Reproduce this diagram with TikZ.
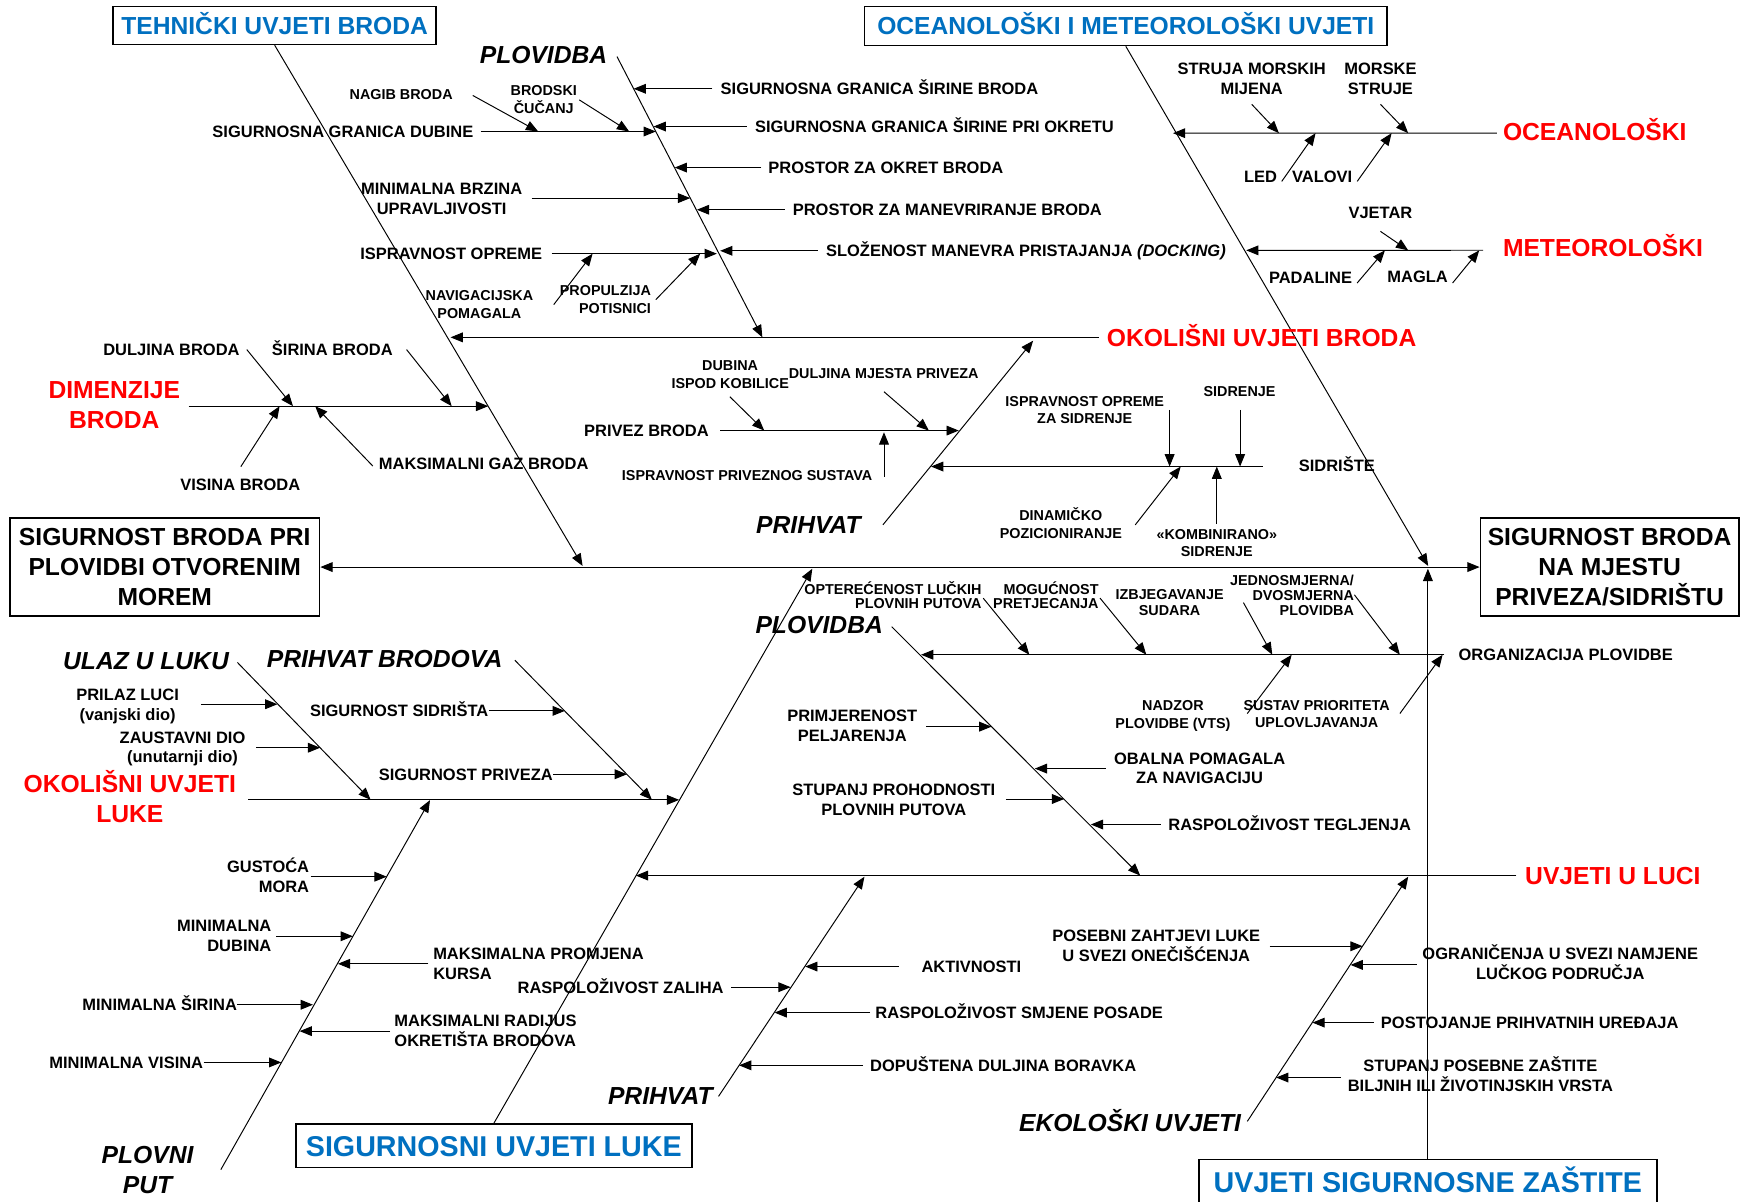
\documentclass[tikz,border=0pt]{standalone}
\usepackage{fontspec}
\setmainfont{Liberation Sans}
\usepackage{xcolor}
\usepackage{tikz}
\usetikzlibrary{arrows.meta}
\usetikzlibrary{calc}

\definecolor{ttlblue}{RGB}{0,112,192}
\newcommand{\capstrut}{\rule{0pt}{1.3em}}

\begin{document}
\begin{tikzpicture}[x=0.02cm,y=-0.02cm,line width=0.5pt,>={Triangle[length=6.3pt,width=5pt]},
        lbl/.style={font=\fontsize{8.45}{10.2}\selectfont\bfseries,inner sep=0pt,text height=6.05pt,text depth=0pt},
        tlbl/.style={font=\fontsize{7.37}{9.07}\selectfont\bfseries,inner sep=0pt,text height=5.28pt,text depth=0pt},
        mlbl/.style={font=\fontsize{8.45}{10.2}\selectfont\bfseries,inner sep=0pt,align=center,anchor=north,yshift=8.08pt},
        mtlbl/.style={font=\fontsize{7.37}{9.07}\selectfont\bfseries,inner sep=0pt,align=center,anchor=north,yshift=7.05pt},
        cat/.style={font=\fontsize{12.64}{15.3}\selectfont\bfseries\itshape,inner sep=0pt,text height=9.05pt,text depth=0pt},
        mcat/.style={font=\fontsize{12.64}{15.3}\selectfont\bfseries\itshape,inner sep=0pt,align=center,anchor=north,yshift=12.08pt},
        redlbl/.style={cat,font=\fontsize{12.64}{15.3}\selectfont\bfseries,text=red},
        mredlbl/.style={mcat,font=\fontsize{12.64}{15.3}\selectfont\bfseries,text=red},
        ttl/.style={draw,line width=0.8pt,inner sep=0pt,text=ttlblue,font=\fontsize{12.64}{15.3}\selectfont\bfseries,text height=9.05pt,text depth=0pt},
        bigttl/.style={ttl,font=\fontsize{14.7}{17}\selectfont\bfseries,text height=10.5pt},
        goal/.style={draw,line width=0.8pt,inner sep=0pt,align=center,font=\fontsize{12.64}{15.3}\selectfont\bfseries}]
        \useasboundingbox (0,0) rectangle (1568,1083);
        \fill[white] (0,0) rectangle (1568,1083);
        \clip (0,0) rectangle (1568,1083);

        % glava i rep
        \node[goal,minimum width=5.58cm,minimum height=1.76cm] (shipsea) at (148.5,511) {SIGURNOST BRODA PRI\\PLOVIDBI OTVORENIM\\MOREM};
        \node[goal,minimum width=4.66cm,minimum height=1.76cm] (shipport) at (1450.5,511) {SIGURNOST BRODA\\NA MJESTU\\PRIVEZA/SIDRIŠTU};
        \draw[<->] (shipsea.east) -- (shipport.west);

        \node[ttl,minimum width=5.82cm,minimum height=0.68cm] (tech) at (247.5,23) {TEHNIČKI UVJETI BRODA};
        \node[ttl,minimum width=9.42cm,minimum height=0.7cm] (ocean) at (1014.5,23.5) {OCEANOLOŠKI I METEOROLOŠKI UVJETI};
        \node[bigttl,minimum width=7.14cm,minimum height=0.78cm] (portsafe) at (445,1032.5) {SIGURNOSNI UVJETI LUKE};
        \node[bigttl,minimum width=8.25cm,minimum height=0.8cm] (security) at (1286.75,1065) {UVJETI SIGURNOSNE ZAŠTITE};
        \coordinate (techtip) at (525,510);
        \coordinate (oceantip) at (1287,510);
        \coordinate (porttip) at (732,512.5);
        \coordinate (sectip) at (1286.75,512.5);
        \draw[->] (tech.south) -- (techtip);
        \draw[->] (ocean.south) -- (oceantip);
        \draw[->] (portsafe.north) -- (porttip);
        \draw[->] (security.north) -- (sectip);

        % tehnicki uvjeti broda
        \node[cat,anchor=west] (navA) at (432,49) {PLOVIDBA};
        \coordinate (navAtop) at (556,51);
        \coordinate (navAtip) at (687,304);
        \draw[->] (navAtop) -- (navAtip);
        \node[lbl,anchor=west] (beamw) at (649,80) {SIGURNOSNA GRANICA ŠIRINE BRODA};
        \node[lbl,anchor=west] (turnw) at (680,114) {SIGURNOSNA GRANICA ŠIRINE PRI OKRETU};
        \node[lbl,anchor=west] (turnsp) at (692,151) {PROSTOR ZA OKRET BRODA};
        \node[lbl,anchor=west] (mansp) at (714,189) {PROSTOR ZA MANEVRIRANJE BRODA};
        \node[lbl,anchor=west] (dock) at (744,226) {SLOŽENOST MANEVRA PRISTAJANJA \textit{(DOCKING)}};
        \coordinate (beamwtip) at (571,80);
        \coordinate (turnwtip) at (589,114);
        \coordinate (turnsptip) at (608,151);
        \coordinate (mansptip) at (628,189);
        \coordinate (docktip) at (649,226);
        \draw[->] ($(beamw.west)+(-7,0)$) -- (beamwtip);
        \draw[->] ($(turnw.west)+(-7,0)$) -- (turnwtip);
        \draw[->] ($(turnsp.west)+(-6,0)$) -- (turnsptip);
        \draw[->] ($(mansp.west)+(-7,0)$) -- (mansptip);
        \draw[->] ($(dock.west)+(-7,0)$) -- (docktip);

        \node[lbl,anchor=east] (depth) at (427,118.5) {SIGURNOSNA GRANICA DUBINE};
        \coordinate (depthtip) at (591,118.5);
        \draw[->] ($(depth.east)+(6,0)$) -- (depthtip);
        \node[tlbl] (heel) at (361.5,85) {NAGIB BRODA};
        \coordinate (heelst) at (426,86);
        \coordinate (heeltip) at (485,118.5);
        \draw[->] (heelst) -- (heeltip);
        \node[mtlbl] (squat) at (490,81) {\capstrut BRODSKI\\ČUČANJ};
        \coordinate (squatst) at (522,90);
        \coordinate (squattip) at (567,118.5);
        \draw[->] (squatst) -- (squattip);
        \node[mlbl] (speed) at (398,169.5) {\capstrut MINIMALNA BRZINA\\UPRAVLJIVOSTI};
        \coordinate (speedst) at (479,178.5);
        \coordinate (speedtip) at (622,178.5);
        \draw[->] (speedst) -- (speedtip);
        \node[lbl,anchor=east] (equip) at (489,228.6) {ISPRAVNOST OPREME};
        \coordinate (equiptip) at (646,228.6);
        \draw[->] ($(equip.east)+(8,0)$) -- (equiptip);
        \node[mtlbl] (navaids) at (432,266) {\capstrut NAVIGACIJSKA\\POMAGALA};
        \coordinate (navaidsst) at (499,274.5);
        \coordinate (navaidstip) at (534,228.6);
        \draw[->] (navaidsst) -- (navaidstip);
        \node[mtlbl,anchor=north east,align=right] (propul) at (587,261.6) {\capstrut PROPULZIJA\\POTISNICI};
        \coordinate (propulst) at (591,270);
        \coordinate (propultip) at (631,228.6);
        \draw[->] (propulst) -- (propultip);

        \node[redlbl,anchor=west] (envship) at (997,304) {OKOLIŠNI UVJETI BRODA};
        \coordinate (envshiptip) at (406,304);
        \draw[->] ($(envship.west)+(-7,0)$) -- (envshiptip);

        \node[mredlbl] (dim) at (103,351) {\capstrut DIMENZIJE\\BRODA};
        \coordinate (dimst) at (170,366);
        \coordinate (dimtip) at (440,366);
        \draw[->] (dimst) -- (dimtip);
        \node[lbl] (shiplen) at (154.5,315) {DULJINA BRODA};
        \node[lbl] (shipwid) at (299.5,315) {ŠIRINA BRODA};
        \node[lbl] (shiphgt) at (216.5,437) {VISINA BRODA};
        \node[lbl,anchor=west] (draught) at (341,418) {MAKSIMALNI GAZ BRODA};
        \coordinate (shiplentip) at (264,366);
        \coordinate (shipwidtip) at (407,366);
        \coordinate (shiphgttip) at (252,366);
        \coordinate (draughttip) at (284,366);
        \draw[->] ($(shiplen.east)+(6,0)$) -- (shiplentip);
        \draw[->] ($(shipwid.east)+(12,0)$) -- (shipwidtip);
        \draw[->] ($(shiphgt.north)+(0.5,-10.7)$) -- (shiphgttip);
        \draw[->] ($(draught.west)+(-5,2)$) -- (draughttip);

        % oceanoloski i meteoroloski uvjeti
        \node[redlbl,anchor=west] (oceano) at (1354,118.5) {OCEANOLOŠKI};
        \coordinate (oceanotip) at (1057,120);
        \draw[->] ($(oceano.west)+(-5,1.5)$) -- (oceanotip);
        \node[mlbl] (tide) at (1128,62) {\capstrut STRUJA MORSKIH\\MIJENA};
        \node[mlbl] (current) at (1244,62) {\capstrut MORSKE\\STRUJE};
        \node[lbl] (ice) at (1136,159) {LED};
        \node[lbl] (waves) at (1191.5,159) {VALOVI};
        \coordinate (tidest) at (1128,94);
        \coordinate (tidetip) at (1152.5,120);
        \coordinate (currentst) at (1244,94);
        \coordinate (currenttip) at (1269,120);
        \coordinate (icest) at (1155,163.5);
        \coordinate (icetip) at (1185.5,120);
        \coordinate (wavesst) at (1223,163.5);
        \coordinate (wavestip) at (1254,120);
        \draw[->] (tidest) -- (tidetip);
        \draw[->] (currentst) -- (currenttip);
        \draw[->] (icest) -- (icetip);
        \draw[->] (wavesst) -- (wavestip);

        \node[redlbl,anchor=west] (meteo) at (1354,223.5) {METEOROLOŠKI};
        \coordinate (meteotip) at (1123,225.6);
        \draw[->] ($(meteo.west)+(-17.5,2)$) -- (meteotip);
        \node[lbl] (wind) at (1244,191.4) {VJETAR};
        \node[lbl] (rain) at (1181,250) {PADALINE};
        \node[lbl] (fog) at (1277.5,249) {MAGLA};
        \coordinate (windst) at (1244,208.5);
        \coordinate (windtip) at (1269,225.6);
        \coordinate (rainst) at (1223,255);
        \coordinate (raintip) at (1248,225.6);
        \coordinate (fogst) at (1309,255);
        \coordinate (fogtip) at (1333,225.6);
        \draw[->] (windst) -- (windtip);
        \draw[->] (rainst) -- (raintip);
        \draw[->] (fogst) -- (fogtip);

        % prihvat broda
        \node[cat,anchor=west] (berthA) at (681,473) {PRIHVAT};
        \coordinate (berthAst) at (795.6,473);
        \coordinate (berthAtip) at (931,307);
        \draw[->] (berthAst) -- (berthAtip);
        \node[lbl,anchor=west] (moor) at (526,388) {PRIVEZ BRODA};
        \coordinate (moortip) at (864,388);
        \draw[->] ($(moor.east)+(10,0)$) -- (moortip);
        \node[mtlbl] (keel) at (658,329) {\capstrut DUBINA\\ISPOD KOBILICE};
        \coordinate (keelst) at (657.7,357.5);
        \coordinate (keeltip) at (688.7,388);
        \draw[->] (keelst) -- (keeltip);
        \node[tlbl,anchor=west] (berthlen) at (710.4,336.5) {DULJINA MJESTA PRIVEZA};
        \coordinate (berthlenst) at (796.6,353);
        \coordinate (berthlentip) at (837,388);
        \draw[->] (berthlenst) -- (berthlentip);
        \node[tlbl,anchor=west] (moorsys) at (560,428.7) {ISPRAVNOST PRIVEZNOG SUSTAVA};
        \coordinate (moorsysst) at (796.6,429.6);
        \coordinate (moorsystip) at (796.6,389.5);
        \draw[->] (moorsysst) -- (moorsystip);

        \node[lbl,anchor=west] (anch) at (1170,420) {SIDRIŠTE};
        \coordinate (anchtip) at (839,420.4);
        \draw[->] ($(anch.west)+(-32,0.4)$) -- (anchtip);
        \node[mtlbl] (anchequip) at (977.5,361) {\capstrut ISPRAVNOST OPREME\\ZA SIDRENJE};
        \node[tlbl] (anchoring) at (1117,353) {SIDRENJE};
        \node[mtlbl] (dynpos) at (956,464) {\capstrut DINAMIČKO\\POZICIONIRANJE};
        \node[mtlbl] (combo) at (1096.5,481) {\capstrut «KOMBINIRANO»\\SIDRENJE};
        \coordinate (anchequipst) at (1054,369.4);
        \coordinate (anchequiptip) at (1054,420.4);
        \coordinate (anchoringst) at (1117.5,369.4);
        \coordinate (anchoringtip) at (1117.5,420.4);
        \coordinate (dynposst) at (1023,473);
        \coordinate (dynpostip) at (1064,420.4);
        \coordinate (combost) at (1096.5,472);
        \coordinate (combotip) at (1096.5,420.4);
        \draw[->] (anchequipst) -- (anchequiptip);
        \draw[->] (anchoringst) -- (anchoringtip);
        \draw[->] (dynposst) -- (dynpostip);
        \draw[->] (combost) -- (combotip);

        % sigurnosni uvjeti luke
        \node[mredlbl] (envport) at (117,706) {\capstrut OKOLIŠNI UVJETI\\LUKE};
        \coordinate (envportst) at (223.5,720.8);
        \coordinate (envporttip) at (612,720.8);
        \draw[->] (envportst) -- (envporttip);
        \node[cat,anchor=west] (entry) at (56.5,595.3) {ULAZ U LUKU};
        \coordinate (entryst) at (214,597);
        \coordinate (entrytip) at (334,720.8);
        \draw[->] (entryst) -- (entrytip);
        \node[mlbl] (approach) at (115,625.5) {\capstrut PRILAZ LUCI\\(vanjski dio)};
        \node[mlbl] (stop) at (164.5,664) {\capstrut ZAUSTAVNI DIO\\(unutarnji dio)};
        \coordinate (approachst) at (181,634.6);
        \coordinate (approachtip) at (250,634.6);
        \coordinate (stopst) at (231,673.8);
        \coordinate (stoptip) at (288.5,673.8);
        \draw[->] (approachst) -- (approachtip);
        \draw[->] (stopst) -- (stoptip);
        \node[cat,anchor=west] (recep) at (240,594) {PRIHVAT BRODOVA};
        \coordinate (recepst) at (464,595);
        \coordinate (receptip) at (587.5,720.8);
        \draw[->] (recepst) -- (receptip);
        \node[lbl,anchor=west] (anchsafe) at (279,640.6) {SIGURNOST SIDRIŠTA};
        \node[lbl,anchor=west] (moorsafe) at (341,697.7) {SIGURNOST PRIVEZA};
        \coordinate (anchsafetip) at (509,640.6);
        \coordinate (moorsafetip) at (565,697.7);
        \draw[->] (anchsafe.east) -- (anchsafetip);
        \draw[->] (moorsafe.east) -- (moorsafetip);

        \node[mcat] (fairway) at (133,1040.7) {\capstrut PLOVNI\\PUT};
        \coordinate (fairwayst) at (199,1054);
        \coordinate (fairwaytip) at (387.5,721);
        \draw[->] (fairwayst) -- (fairwaytip);
        \node[mlbl,anchor=north east,align=right] (density) at (279,781) {\capstrut GUSTOĆA\\MORA};
        \node[mlbl,anchor=north east,align=right] (mindepth) at (245,834.3) {\capstrut MINIMALNA\\DUBINA};
        \node[mlbl,anchor=north west,align=left] (course) at (390,858.8) {\capstrut MAKSIMALNA PROMJENA\\KURSA};
        \node[lbl,anchor=east] (minwid) at (214,905.4) {MINIMALNA ŠIRINA};
        \node[mlbl,anchor=north west,align=left] (radius) at (355,919.9) {\capstrut MAKSIMALNI RADIJUS\\OKRETIŠTA BRODOVA};
        \node[lbl,anchor=east] (minhgt) at (183.5,957.4) {MINIMALNA VISINA};
        \coordinate (densityst) at (280,790);
        \coordinate (densitytip) at (348.5,790);
        \coordinate (mindepthst) at (249,843.7);
        \coordinate (mindepthtip) at (318,843.7);
        \coordinate (coursest) at (386,868.5);
        \coordinate (coursetip) at (304.5,868.5);
        \coordinate (minwidtip) at (282,905.4);
        \coordinate (radiusst) at (351.5,929.2);
        \coordinate (radiustip) at (270,929.2);
        \coordinate (minhgttip) at (253.5,957.4);
        \draw[->] (densityst) -- (densitytip);
        \draw[->] (mindepthst) -- (mindepthtip);
        \draw[->] (coursest) -- (coursetip);
        \draw[->] (minwid.east) -- (minwidtip);
        \draw[->] (radiusst) -- (radiustip);
        \draw[->] (minhgt.east) -- (minhgttip);

        % uvjeti u luci
        \node[redlbl,anchor=west] (portcond) at (1374,789) {UVJETI U LUCI};
        \coordinate (portcondtip) at (573,789);
        \draw[->] ($(portcond.west)+(-7.5,0)$) -- (portcondtip);
        \node[cat,anchor=west] (navB) at (680.4,563.2) {PLOVIDBA};
        \coordinate (navBst) at (803.5,564.7);
        \coordinate (navBtip) at (1027.5,789);
        \draw[->] (navBst) -- (navBtip);
        \node[lbl,anchor=west] (traforg) at (1314,590) {ORGANIZACIJA PLOVIDBE};
        \coordinate (traforgtip) at (830,590);
        \draw[->] ($(traforg.west)+(-12.5,0)$) -- (traforgtip);
        \node[mtlbl,font=\fontsize{7.37}{7.1}\selectfont\bfseries,anchor=north east,align=right] (load) at (885,531) {\capstrut OPTEREĆENOST LUČKIH\\PLOVNIH PUTOVA};
        \node[mtlbl,font=\fontsize{7.37}{7.3}\selectfont\bfseries,anchor=north east,align=right] (overtake) at (990.4,531) {\capstrut MOGUĆNOST\\PRETJECANJA};
        \node[mtlbl,font=\fontsize{7.37}{8.5}\selectfont\bfseries] (collision) at (1054,535) {\capstrut IZBJEGAVANJE\\SUDARA};
        \node[mtlbl,font=\fontsize{7.37}{7.65}\selectfont\bfseries,anchor=north east,align=right] (oneway) at (1220.5,523) {\capstrut JEDNOSMJERNA/\\DVOSMJERNA\\PLOVIDBA};
        \node[mtlbl] (vts) at (1057,635.3) {\capstrut NADZOR\\PLOVIDBE (VTS)};
        \node[mtlbl] (priority) at (1186.5,635) {\capstrut SUSTAV PRIORITETA\\UPLOVLJAVANJA};
        \coordinate (loadst) at (886,539);
        \coordinate (loadtip) at (927.6,590);
        \coordinate (overtakest) at (991.3,539);
        \coordinate (overtaketip) at (1033,590);
        \coordinate (collisionst) at (1120.5,543);
        \coordinate (collisiontip) at (1146.5,590);
        \coordinate (onewayst) at (1220.5,536);
        \coordinate (onewaytip) at (1261.5,590);
        \coordinate (vtsst) at (1124,643);
        \coordinate (vtstip) at (1164,590);
        \coordinate (priorityst) at (1261.5,643);
        \coordinate (prioritytip) at (1300,590);
        \draw[->] (loadst) -- (loadtip);
        \draw[->] (overtakest) -- (overtaketip);
        \draw[->] (collisionst) -- (collisiontip);
        \draw[->] (onewayst) -- (onewaytip);
        \draw[->] (vtsst) -- (vtstip);
        \draw[->] (priorityst) -- (prioritytip);

        \node[mlbl] (pilot) at (768,645) {\capstrut PRIMJERENOST\\PELJARENJA};
        \node[mlbl] (aids) at (1081,683) {\capstrut OBALNA POMAGALA\\ZA NAVIGACIJU};
        \node[mlbl] (passab) at (805.5,711.3) {\capstrut STUPANJ PROHODNOSTI\\PLOVNIH PUTOVA};
        \node[lbl,anchor=west] (tug) at (1052.5,743) {RASPOLOŽIVOST TEGLJENJA};
        \coordinate (pilotst) at (834.5,654.8);
        \coordinate (pilottip) at (893.5,654.8);
        \coordinate (aidsst) at (996.5,692.6);
        \coordinate (aidstip) at (932.5,692.6);
        \coordinate (passabst) at (906.5,720);
        \coordinate (passabtip) at (959,720);
        \coordinate (tugtip) at (983,743);
        \draw[->] (pilotst) -- (pilottip);
        \draw[->] (aidsst) -- (aidstip);
        \draw[->] (passabst) -- (passabtip);
        \draw[->] ($(tug.west)+(-6.5,0)$) -- (tugtip);

        \node[cat,anchor=west] (berthB) at (547.5,987) {PRIHVAT};
        \coordinate (berthBst) at (647.5,988);
        \coordinate (berthBtip) at (779,790);
        \draw[->] (berthBst) -- (berthBtip);
        \node[lbl,anchor=west] (activ) at (830,871) {AKTIVNOSTI};
        \node[lbl,anchor=east] (stores) at (652.5,889.6) {RASPOLOŽIVOST ZALIHA};
        \node[lbl,anchor=west] (crew) at (788.5,912.5) {RASPOLOŽIVOST SMJENE POSADE};
        \node[lbl,anchor=west] (stay) at (783.7,960) {DOPUŠTENA DULJINA BORAVKA};
        \coordinate (activtip) at (725.6,871);
        \coordinate (storestip) at (712.5,889.6);
        \coordinate (crewtip) at (698,912.5);
        \coordinate (staytip) at (666,960);
        \draw[->] ($(activ.west)+(-20,0)$) -- (activtip);
        \draw[->] ($(stores.east)+(6.5,0)$) -- (storestip);
        \draw[->] ($(crew.west)+(-4.5,0)$) -- (crewtip);
        \draw[->] ($(stay.west)+(-6,0)$) -- (staytip);

        \node[cat,anchor=west] (eco) at (918,1012) {EKOLOŠKI UVJETI};
        \coordinate (ecost) at (1124,1010.5);
        \coordinate (ecotip) at (1269,790);
        \draw[->] (ecost) -- (ecotip);
        \node[mlbl] (pollut) at (1042,842.7) {\capstrut POSEBNI ZAHTJEVI LUKE\\U SVEZI ONEČIŠĆENJA};
        \node[mlbl] (zoning) at (1406,859.4) {\capstrut OGRANIČENJA U SVEZI NAMJENE\\LUČKOG PODRUČJA};
        \node[lbl,anchor=west] (recfac) at (1244,921.5) {POSTOJANJE PRIHVATNIH UREĐAJA};
        \node[mlbl] (species) at (1334,960) {\capstrut STUPANJ POSEBNE ZAŠTITE\\BILJNIH ILI ŽIVOTINJSKIH VRSTA};
        \coordinate (pollutst) at (1144,852.7);
        \coordinate (polluttip) at (1228,852.7);
        \coordinate (zoningst) at (1276.5,869.5);
        \coordinate (zoningtip) at (1217,869.5);
        \coordinate (recfactip) at (1182.7,921.5);
        \coordinate (speciesst) at (1208,971);
        \coordinate (speciestip) at (1150,971);
        \draw[->] (pollutst) -- (polluttip);
        \draw[->] (zoningst) -- (zoningtip);
        \draw[->] ($(recfac.west)+(-6,0)$) -- (recfactip);
        \draw[->] (speciesst) -- (speciestip);
    \end{tikzpicture}
\end{document}
